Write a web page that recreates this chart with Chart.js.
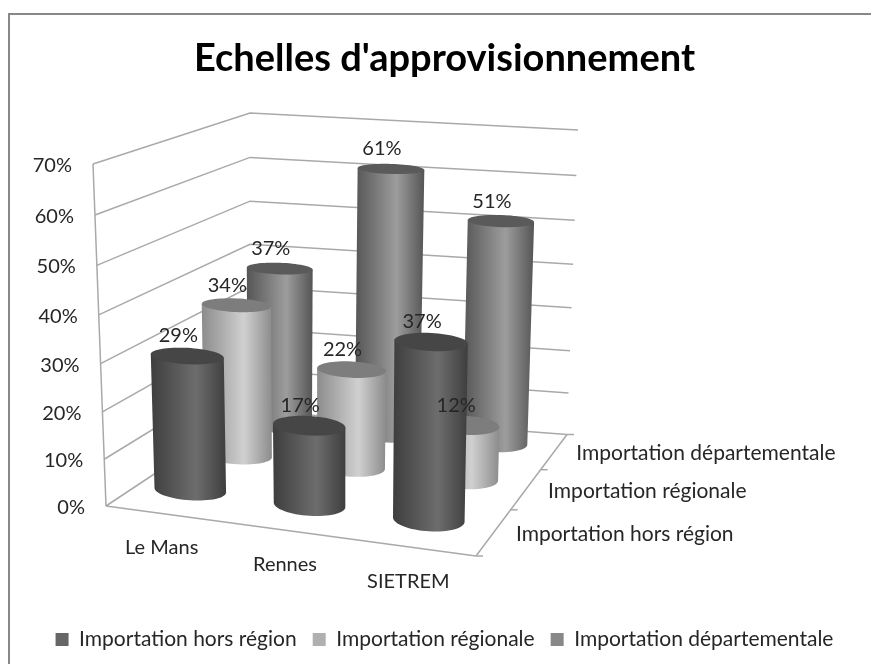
<!DOCTYPE html>
<html>
<head>
<meta charset="utf-8">
<script src="https://cdn.jsdelivr.net/npm/chart.js@4/dist/chart.umd.js"></script>
<style>
  html, body { margin: 0; background: #fff; }
  #wrap { width: 871px; height: 664px; }
</style>
</head>
<body>
<div id="wrap"><canvas id="c" width="871" height="664"></canvas></div>
<script>
const categories = ['Le Mans', 'Rennes', 'SIETREM'];
const horsRegion = [29, 17, 37];
const regionale = [34, 22, 12];
const departementale = [37, 61, 51];
const seriesNames = ['Importation hors région', 'Importation régionale', 'Importation départementale'];
const tickStep = 10;
const tickMax = 70;

const FONT = 'Lato, Carlito, sans-serif';
const GRID = '#a9a9a9';

// box corners on screen: floor plane and the 70% plane
const floorQuad = [[106, 506], [476, 556], [567, 434.5], [250, 410.5]];
const topQuad = [[93, 164], [483, 196], [578, 130], [250, 113]];
const depthPersp = 1.226;
const heightPersp = 0.95;

function planeAt(q, u, v) {
  const d = v * depthPersp / (1 + (depthPersp - 1) * v);
  const lx = q[0][0] + (q[3][0] - q[0][0]) * d, ly = q[0][1] + (q[3][1] - q[0][1]) * d;
  const rx = q[1][0] + (q[2][0] - q[1][0]) * d, ry = q[1][1] + (q[2][1] - q[1][1]) * d;
  return [lx + (rx - lx) * u, ly + (ry - ly) * u];
}

function project(u, v, frac) {
  const p = planeAt(floorQuad, u, v), t = planeAt(topQuad, u, v);
  const h = frac * heightPersp / (1 + (heightPersp - 1) * frac);
  return [p[0] + (t[0] - p[0]) * h, p[1] + (t[1] - p[1]) * h];
}

// cylinder slots sit a little back and left of the middle of each cell
function markU(u) { return u - 0.024; }
function markV(v) { return v + 0.03; }

function ring(u, v, frac) {
  const ru = 0.1, rv = 0.09;
  const c = project(u, v, frac);
  const a = project(u - ru, v, frac), b = project(u + ru, v, frac);
  const f = project(u, v - rv, frac), k = project(u, v + rv, frac);
  const rx = (b[0] - a[0]) / 2, slope = (b[1] - a[1]) / (b[0] - a[0]);
  const ry = (f[1] - k[1]) / 2;
  const pts = [];
  // t from 0 to PI goes round the front, right edge to left edge
  for (let i = 0; i < 64; i++) {
    const t = i / 64 * Math.PI * 2;
    const dx = rx * Math.cos(t);
    pts.push([c[0] + dx, c[1] + dx * slope * 0.5 + ry * Math.sin(t)]);
  }
  return pts;
}

function drawCylinder(ctx, u, v, frac, colors) {
  const bottom = ring(u, v, 0), top = ring(u, v, frac);
  const left = Math.min(bottom[32][0], top[32][0]);
  const right = Math.max(bottom[0][0], top[0][0]);
  const grad = ctx.createLinearGradient(left, 0, right, 0);
  grad.addColorStop(0, colors[0]);
  grad.addColorStop(0.6, colors[1]);
  grad.addColorStop(1, colors[0]);

  ctx.beginPath();
  ctx.moveTo(top[32][0], top[32][1]);
  ctx.lineTo(top[0][0], top[0][1]);
  for (let i = 0; i <= 32; i++) ctx.lineTo(bottom[i][0], bottom[i][1]);
  ctx.closePath();
  ctx.fillStyle = grad;
  ctx.fill();

  ctx.beginPath();
  top.forEach((p, i) => i ? ctx.lineTo(p[0], p[1]) : ctx.moveTo(p[0], p[1]));
  ctx.closePath();
  ctx.fillStyle = colors[2];
  ctx.fill();
}

const cylinderColors = [
  ['#3e3e3e', '#6d6d6d', '#464646'],
  ['#8c8c8c', '#d0d0d0', '#7d7d7d'],
  ['#555555', '#9d9d9d', '#5a5a5a']
];

const box3d = {
  id: 'box3d',
  beforeDatasetsDraw(chart) {
    const ctx = chart.ctx;
    const area = chart.chartArea;
    const xs = chart.scales.x, ys = chart.scales.y;
    const level = (v) => (area.bottom - ys.getPixelForValue(v)) / area.height;
    const catU = (i) => (xs.getPixelForValue(i) - area.left) / area.width;
    const rows = chart.data.datasets.length;

    ctx.save();
    ctx.strokeStyle = GRID;
    ctx.lineWidth = 1.5;
    const line = (a, b) => {
      ctx.beginPath();
      ctx.moveTo(a[0], a[1]);
      ctx.lineTo(b[0], b[1]);
      ctx.stroke();
    };

    // walls
    ys.ticks.forEach(t => {
      const f = level(t.value);
      ctx.beginPath();
      let p = project(0, 0, f); ctx.moveTo(p[0], p[1]);
      p = project(0, 1, f); ctx.lineTo(p[0], p[1]);
      p = project(1, 1, f); ctx.lineTo(p[0], p[1]);
      ctx.stroke();
    });
    line(project(0, 0, 0), project(0, 0, 1));
    // floor edges
    line(project(0, 0, 0), project(1, 0, 0));
    line(project(1, 0, 0), project(1, 1, 0));
    for (let j = 0; j <= rows; j++) {
      const p = project(1, j / rows, 0);
      line(p, [p[0] + 7, p[1]]);
    }

    // cylinders, back row first, left to right
    for (let j = rows - 1; j >= 0; j--) {
      const v = markV((j + 0.5) / rows);
      chart.data.datasets[j].data.forEach((val, i) => {
        drawCylinder(ctx, markU(catU(i)), v, level(val), cylinderColors[j]);
      });
    }

    // texts
    ctx.fillStyle = '#262626';
    ctx.font = '20px ' + FONT;
    ctx.textBaseline = 'middle';
    ctx.textAlign = 'right';
    ys.ticks.forEach(t => {
      const p = project(0, 0, level(t.value));
      ctx.fillText(t.label, p[0] - 21, p[1] + 1.5);
    });
    ctx.textAlign = 'center';
    categories.forEach((c, i) => {
      const p = project(catU(i), 0, 0);
      ctx.fillText(c, p[0] - 6, p[1] + 33.5);
    });
    chart.data.datasets.forEach((ds, j) => {
      const v = markV((j + 0.5) / rows);
      ds.data.forEach((val, i) => {
        const p = project(markU(catU(i)), v, level(val));
        ctx.fillText(val + '%', p[0] - 9, p[1] - 20);
      });
    });
    ctx.textAlign = 'left';
    ctx.font = '21px ' + FONT;
    seriesNames.forEach((s, j) => {
      const p = project(1, (j + 0.5) / rows, 0);
      ctx.fillText(s, p[0] + 22, p[1] + 2);
    });
    ctx.restore();
    return false; // flat bars are replaced by the cylinders above
  }
};

const frame = {
  id: 'frame',
  afterDraw(chart) {
    const ctx = chart.ctx;
    ctx.save();
    ctx.strokeStyle = '#888888';
    ctx.lineWidth = 2;
    ctx.beginPath();
    ctx.moveTo(9, chart.height);
    ctx.lineTo(9, 14);
    ctx.lineTo(chart.width, 14);
    ctx.stroke();
    ctx.restore();
  }
};

new Chart(document.getElementById('c'), {
  type: 'bar',
  data: {
    labels: categories,
    datasets: [
      { label: seriesNames[0], data: horsRegion, backgroundColor: '#666666' },
      { label: seriesNames[1], data: regionale, backgroundColor: '#b0b0b0' },
      { label: seriesNames[2], data: departementale, backgroundColor: '#888888' }
    ]
  },
  plugins: [box3d, frame],
  options: {
    responsive: false,
    animation: false,
    layout: { padding: { top: 36, left: 18, bottom: 4 } },
    plugins: {
      tooltip: { enabled: false },
      title: {
        display: true,
        text: "Echelles d'approvisionnement",
        color: '#000',
        font: { family: FONT, size: 38, weight: 'bold' },
        padding: { top: 0, bottom: 0 }
      },
      legend: {
        position: 'bottom',
        labels: {
          boxWidth: 13,
          boxHeight: 13,
          color: '#262626',
          font: { family: FONT, size: 21 },
          padding: 16
        }
      }
    },
    scales: {
      x: { display: false },
      y: {
        display: false,
        min: 0,
        max: tickMax,
        ticks: { stepSize: tickStep, callback: (v) => v + '%' }
      }
    }
  }
});
</script>
</body>
</html>
